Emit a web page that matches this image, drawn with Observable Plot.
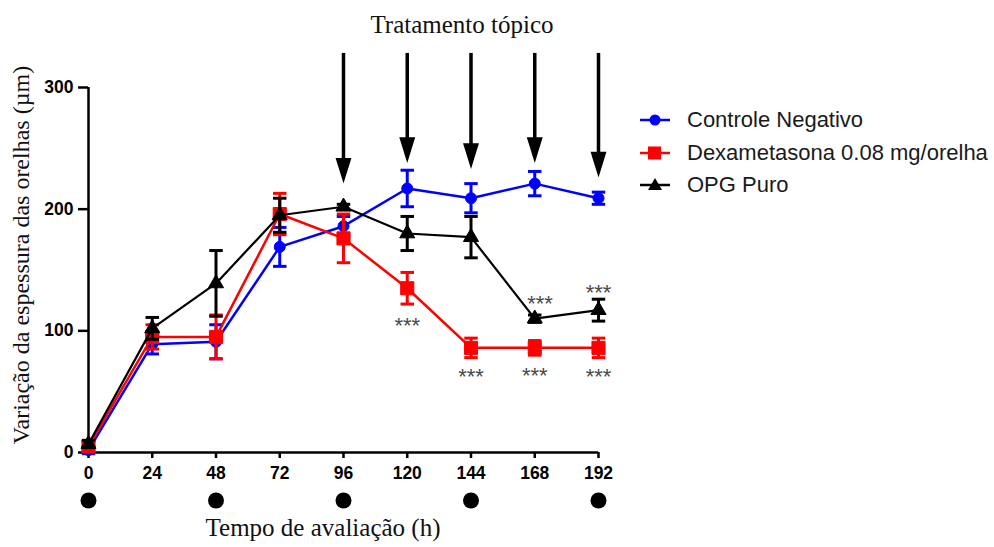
<!DOCTYPE html>
<html><head><meta charset="utf-8">
<script src="https://cdn.jsdelivr.net/npm/d3@7"></script>
<script src="https://cdn.jsdelivr.net/npm/@observablehq/plot@0.6"></script>
<style>
body{margin:0;background:#fff;}
#wrap{position:relative;width:994px;height:547px;overflow:hidden;background:#fff;}
.serif{position:absolute;font-family:"Liberation Serif","Times New Roman",serif;color:#111;white-space:nowrap;}
.leg{position:absolute;left:638px;display:flex;align-items:center;height:24px;font-family:"Liberation Sans",Arial,sans-serif;font-size:22px;color:#1a1a1a;white-space:nowrap;}
.leg svg{display:block;}
.leg span{margin-left:17px;}
</style></head>
<body><div id="wrap"></div>
<script>
// ---- data ----
const times = [0, 24, 48, 72, 96, 120, 144, 168, 192];
const seriesNames = ["Controle Negativo", "Dexametasona 0.08 mg/orelha", "OPG Puro"];
const controleMean = [2, 89, 91, 169, 186, 217, 209, 221, 209];
const controleSem  = [3, 8, 14, 16, 8, 15, 12, 10, 5];
const dexaMean     = [5, 95, 95, 196, 176, 135, 86, 86, 86];
const dexaSem      = [4, 10, 18, 17, 20, 13, 8, 6, 8];
const opgMean      = [7, 102, 139, 195, 202, 180, 177, 110, 117];
const opgSem       = [3, 9, 27, 14, 2, 14, 17, 3, 9];
const xTicks = [0, 24, 48, 72, 96, 120, 144, 168, 192];
const yTicks = [0, 100, 200, 300];
const treatmentTimes = [96, 120, 144, 168, 192];
const arrowTipY = [221, 238, 233, 238, 226];
const arrowTopY = 328;
const visitTimes = [0, 48, 96, 144, 192];
const sigX = [120, 144, 168, 192, 170, 192];
const sigY = [109, 67, 68, 67, 127, 136];
const sigLabel = ["***", "***", "***", "***", "***", "***"];
const titleText = "Tratamento tópico";
const xLabel = "Tempo de avaliação (h)";
const yLabel = "Variação da espessura das orelhas (µm)";

// ---- styles ----
const seriesColors = ["#0000ff", "#ff0000", "#000000"];
const seriesSymbols = ["circle", "square", "triangle"];
const seriesR = [5.5, 7.4, 5.6];
const seriesLineW = [2.5, 2.5, 2.2];

const means = [controleMean, dexaMean, opgMean];
const sems = [controleSem, dexaSem, opgSem];

const capSymbol = {draw(ctx, size){ const w = Math.sqrt(size)/2; ctx.moveTo(-w,0); ctx.lineTo(w,0); }};
const arrowHead = {draw(ctx, size){ const s = Math.sqrt(size); ctx.moveTo(-0.31*s,-s); ctx.lineTo(0.31*s,-s); ctx.lineTo(0,0); ctx.closePath(); }};

const marks = [];
seriesNames.forEach((name, i) => {
  const rows = times.map((t, j) => ({t, mean: means[i][j], sem: sems[i][j]}));
  const c = seriesColors[i];
  marks.push(
    Plot.line(rows, {x: "t", y: "mean", stroke: c, strokeWidth: seriesLineW[i]}),
    Plot.ruleX(rows, {x: "t", y1: d => d.mean - d.sem, y2: d => d.mean + d.sem, stroke: c, strokeWidth: 3}),
    Plot.dot(rows, {x: "t", y: d => d.mean + d.sem, symbol: capSymbol, r: 7.6, stroke: c, fill: "none", strokeWidth: 3}),
    Plot.dot(rows, {x: "t", y: d => d.mean - d.sem, symbol: capSymbol, r: 7.6, stroke: c, fill: "none", strokeWidth: 3}),
    Plot.dot(rows, {x: "t", y: "mean", symbol: seriesSymbols[i], r: seriesR[i], fill: c, stroke: c, strokeWidth: 1})
  );
});

const arrows = treatmentTimes.map((t, i) => ({t, tip: arrowTipY[i]}));
const sig = sigX.map((x, i) => ({x, y: sigY[i], label: sigLabel[i]}));

const plot = Plot.plot({
  width: 994, height: 547,
  marginLeft: 88, marginRight: 396, marginTop: 87, marginBottom: 95,
  x: {domain: [0, 192]},
  y: {domain: [0, 300]},
  style: {fontFamily: "Liberation Sans, Arial, sans-serif", background: "transparent", color: "black"},
  marks: [
    Plot.ruleX([0], {y1: 0, y2: 300, stroke: "black", strokeWidth: 2.5}),
    Plot.ruleY([0], {x1: 0, x2: 192, stroke: "black", strokeWidth: 2.5}),
    Plot.axisX(xTicks, {tickSize: 6, tickPadding: 8, fontSize: 17.5, fontWeight: "bold", strokeWidth: 2.5, label: null, tickFormat: d => String(d)}),
    Plot.axisY(yTicks, {tickSize: 10, tickPadding: 5, fontSize: 17.5, fontWeight: "bold", strokeWidth: 2.5, label: null, tickFormat: d => String(d)}),
    Plot.dot(visitTimes, {x: d => d, y: 0, dy: 48, r: 8, fill: "black", stroke: "none"}),
    Plot.ruleX(arrows, {x: "t", y1: arrowTopY, y2: d => d.tip + 12, stroke: "black", strokeWidth: 3.5}),
    Plot.dot(arrows, {x: "t", y: "tip", symbol: arrowHead, r: 14.5, fill: "black", stroke: "none"}),
    ...marks,
    Plot.text(sig, {x: "x", y: "y", text: "label", fontSize: 22, fill: "#4a4a4a", dy: 6, textAnchor: "middle", lineAnchor: "middle"})
  ]
});

const wrap = document.getElementById("wrap");
wrap.appendChild(plot);

function addDiv(cls, text, css){ const d = document.createElement("div"); d.className = cls; d.textContent = text; d.style.cssText = css; wrap.appendChild(d); return d; }
addDiv("serif", titleText, "left:462px;top:25px;font-size:25px;transform:translate(-50%,-50%);");
addDiv("serif", xLabel, "left:323px;top:528px;font-size:25px;transform:translate(-50%,-50%);");
addDiv("serif", yLabel, "left:21px;top:255px;font-size:24px;transform:translate(-50%,-50%) rotate(-90deg);");

const legendY = [120, 153, 185];
const legendMarkers = [
  c => `<circle cx="17" cy="12" r="5.5" fill="${c}"/>`,
  c => `<rect x="10" y="5.5" width="13" height="13" fill="${c}"/>`,
  c => `<path d="M17,5 L24,17 L10,17 Z" fill="${c}"/>`
];
seriesNames.forEach((name, i) => {
  const c = seriesColors[i];
  const d = document.createElement("div");
  d.className = "leg";
  d.style.top = (legendY[i] - 12) + "px";
  d.innerHTML = `<svg width="32" height="24"><line x1="2" y1="12" x2="32" y2="12" stroke="${c}" stroke-width="2.5"/>${legendMarkers[i](c)}</svg><span>${name}</span>`;
  wrap.appendChild(d);
});
</script>
</body></html>
